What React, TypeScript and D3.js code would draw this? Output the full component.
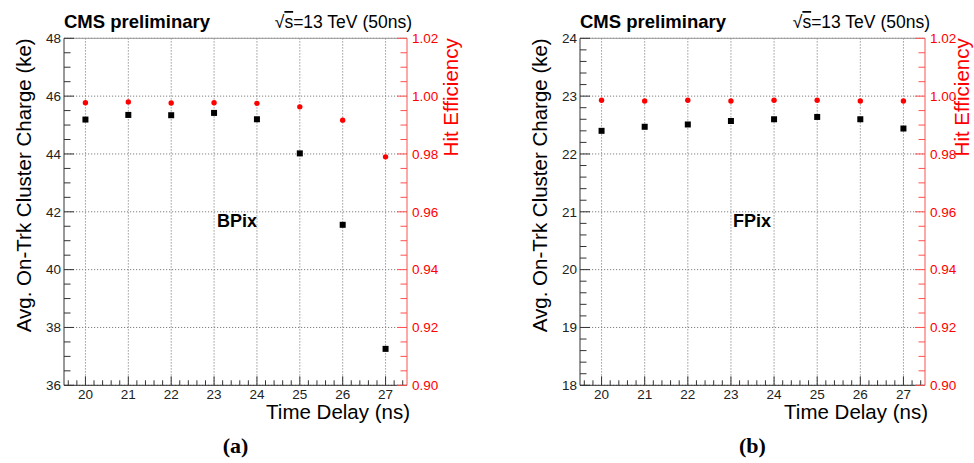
import React from "react";
import * as d3 from "d3";

const delays = [20, 21, 22, 23, 24, 25, 26, 27];
const bpixCharge = [45.19, 45.35, 45.34, 45.42, 45.2, 44.02, 41.55, 37.26];
const bpixEff = [0.9977, 0.998, 0.9976, 0.9977, 0.9975, 0.9963, 0.9917, 0.979];
const fpixCharge = [22.4, 22.47, 22.51, 22.57, 22.6, 22.64, 22.6, 22.44];
const fpixEff = [0.9986, 0.9983, 0.9986, 0.9983, 0.9986, 0.9986, 0.9983, 0.9983];
const bpixChargeTicks = [36, 38, 40, 42, 44, 46, 48];
const fpixChargeTicks = [18, 19, 20, 21, 22, 23, 24];
const effTicks = [0.9, 0.92, 0.94, 0.96, 0.98, 1.0, 1.02];
const xTicks = [20, 21, 22, 23, 24, 25, 26, 27];

const SANS = "'Liberation Sans', Arial, Helvetica, sans-serif";
const SERIF = "'Liberation Serif', 'Times New Roman', serif";
const RED = "#ff0000";
const RED_AXIS = "#ff5050";

type PanelProps = {
  left: number;
  right: number;
  chargeDomain: [number, number];
  chargeTicks: number[];
  chargeMinorStep: number;
  charge: number[];
  eff: number[];
  label: string;
  caption: string;
  rightTitleOffset: number;
};

function Panel(p: PanelProps) {
  const top = 38.3;
  const bottom = 385.3;
  const x = d3.scaleLinear().domain([19.5, 27.5]).range([p.left, p.right]);
  const y = d3.scaleLinear().domain(p.chargeDomain).range([bottom, top]);
  const yr = d3.scaleLinear().domain([0.9, 1.02]).range([bottom, top]);

  const xMinor = d3.range(19.6, 27.45, 0.2).map((v) => +v.toFixed(2));
  const yMinor = d3
    .range(p.chargeDomain[0], p.chargeDomain[1] + 1e-9, p.chargeMinorStep)
    .map((v) => +v.toFixed(3));
  const rMinor = d3.range(0.9, 1.02 + 1e-9, 0.005).map((v) => +v.toFixed(4));
  const cx = (p.left + p.right) / 2;

  return (
    <g>
      {xTicks.map((t) => (
        <line key={"gx" + t} x1={x(t)} x2={x(t)} y1={top} y2={bottom} stroke="#808080" strokeWidth={1} strokeDasharray="1.2 1.8" />
      ))}
      {p.chargeTicks.map((t) => (
        <line key={"gy" + t} x1={p.left} x2={p.right} y1={y(t)} y2={y(t)} stroke="#808080" strokeWidth={1} strokeDasharray="1.2 1.8" />
      ))}
      <line x1={p.left} x2={p.right} y1={top} y2={top} stroke="#999" strokeWidth={1} />
      <line x1={p.left} x2={p.left} y1={top} y2={bottom} stroke="#333" strokeWidth={1} />
      <line x1={p.left} x2={p.right} y1={bottom} y2={bottom} stroke="#333" strokeWidth={1} />
      <line x1={p.right} x2={p.right} y1={top} y2={bottom} stroke={RED_AXIS} strokeWidth={1} />
      {xMinor.map((t) => {
        const major = Math.abs(t - Math.round(t)) < 1e-6;
        return <line key={"xt" + t} x1={x(t)} x2={x(t)} y1={bottom} y2={bottom - (major ? 9 : 5)} stroke="#333" strokeWidth={1} />;
      })}
      {xTicks.map((t) => (
        <text key={"xl" + t} x={x(t)} y={398.5} textAnchor="middle" fontFamily={SANS} fontSize={13.5} fill="#222">
          {t}
        </text>
      ))}
      {yMinor.map((t) => {
        const major = p.chargeTicks.some((m) => Math.abs(m - t) < 1e-6);
        return <line key={"yt" + t} x1={p.left} x2={p.left + (major ? 10 : 6.5)} y1={y(t)} y2={y(t)} stroke="#333" strokeWidth={1} />;
      })}
      {p.chargeTicks.map((t) => (
        <text key={"yl" + t} x={p.left - 3} y={y(t)} dy="0.35em" textAnchor="end" fontFamily={SANS} fontSize={13.5} fill="#222">
          {String(t)}
        </text>
      ))}
      {rMinor.map((t) => {
        const major = effTicks.some((m) => Math.abs(m - t) < 1e-6);
        return <line key={"rt" + t} x1={p.right} x2={p.right - (major ? 10 : 6.5)} y1={yr(t)} y2={yr(t)} stroke={RED_AXIS} strokeWidth={1} />;
      })}
      {effTicks.map((t) => (
        <text key={"rl" + t} x={p.right + 5} y={yr(t)} dy="0.35em" textAnchor="start" fontFamily={SANS} fontSize={13.5} fill={RED}>
          {t.toFixed(2)}
        </text>
      ))}
      {delays.map((d, i) => (
        <circle key={"e" + d} cx={x(d)} cy={yr(p.eff[i])} r={2.7} fill={RED} />
      ))}
      {delays.map((d, i) => (
        <rect key={"c" + d} x={x(d) - 3} y={y(p.charge[i]) - 3} width={6} height={6} fill="#000" />
      ))}
      <text x={p.left} y={28} fontFamily={SANS} fontWeight="bold" fontSize={18.5} fill="#000">
        CMS preliminary
      </text>
      <text x={p.right + 5} y={28} textAnchor="end" fontFamily={SANS} fontSize={17.5} fill="#000">
        √<tspan style={{ textDecoration: "overline" }}>s</tspan>=13 TeV (50ns)
      </text>
      <text x={p.left + 153} y={227} fontFamily={SANS} fontWeight="bold" fontSize={18} fill="#000">
        {p.label}
      </text>
      <text x={p.right + 3} y={419} textAnchor="end" fontFamily={SANS} fontSize={20.5} fill="#000">
        Time Delay (ns)
      </text>
      <text transform={`translate(${p.left - 33},${top}) rotate(-90)`} textAnchor="end" fontFamily={SANS} fontSize={20.5} fill="#000">
        Avg. On-Trk Cluster Charge (ke)
      </text>
      <text transform={`translate(${p.right + p.rightTitleOffset},${top}) rotate(-90)`} textAnchor="end" fontFamily={SANS} fontSize={20.5} fill={RED}>
        Hit Efficiency
      </text>
      <text x={cx} y={453} textAnchor="middle" fontFamily={SERIF} fontWeight="bold" fontSize={22} fill="#000">
        {p.caption}
      </text>
    </g>
  );
}

export default function App() {
  return (
    <svg width={974} height={463} style={{ position: "absolute", left: 0, top: 0, background: "#fff" }}>
      <rect width={974} height={463} fill="#fff" />
      <Panel
        left={64}
        right={407}
        chargeDomain={[36, 48]}
        chargeTicks={bpixChargeTicks}
        chargeMinorStep={0.5}
        charge={bpixCharge}
        eff={bpixEff}
        label="BPix"
        caption="(a)"
        rightTitleOffset={51}
      />
      <Panel
        left={580}
        right={925}
        chargeDomain={[18, 24]}
        chargeTicks={fpixChargeTicks}
        chargeMinorStep={0.2}
        charge={fpixCharge}
        eff={fpixEff}
        label="FPix"
        caption="(b)"
        rightTitleOffset={44}
      />
    </svg>
  );
}
